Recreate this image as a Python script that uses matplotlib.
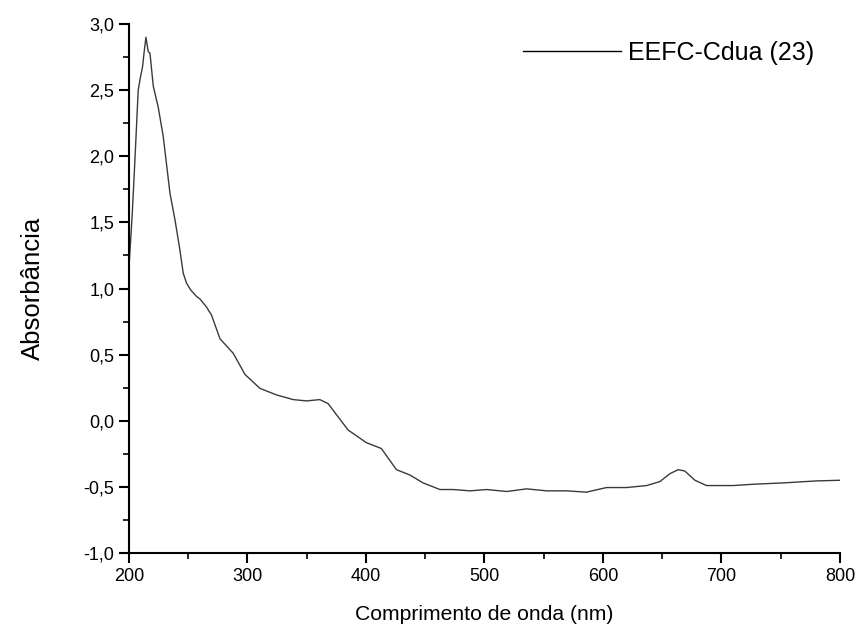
import numpy as np
import matplotlib
matplotlib.use("Agg")
import matplotlib.pyplot as plt
from matplotlib.ticker import MultipleLocator, FuncFormatter

plt.rcParams['font.family'] = ['Liberation Sans', 'DejaVu Sans']

# wavelength (nm) and absorbance
wavelength = [200, 202.8, 205, 207.8, 209.3, 211.5, 212.7, 214.3, 216.3, 217.7,
              220.5, 224.7, 228.9, 234.6, 238.8, 243, 245.8, 248.6, 252, 257,
              260, 265.4, 267.8, 269.6, 276.8, 288, 297.9, 310.5, 324.6, 338.6,
              349.8, 361, 368, 384.9, 400.4, 413, 425.7, 437, 448.2, 462.4,
              473.6, 487.8, 501.8, 518.7, 535.5, 552.4, 569.3, 586, 603, 620,
              636.8, 648, 656.5, 663.5, 669, 677.6, 687.4, 709.9, 726.8, 752,
              780, 800]
absorbance = [1.16, 1.57, 1.97, 2.50, 2.58, 2.68, 2.78, 2.90, 2.79, 2.78,
              2.53, 2.37, 2.15, 1.72, 1.52, 1.29, 1.115, 1.04, 0.99, 0.94,
              0.92, 0.86, 0.825, 0.80, 0.62, 0.51, 0.35, 0.245, 0.195, 0.16,
              0.15, 0.16, 0.13, -0.07, -0.166, -0.21, -0.37, -0.41, -0.47, -0.52,
              -0.52, -0.53, -0.52, -0.535, -0.515, -0.53, -0.53, -0.54, -0.505, -0.505,
              -0.49, -0.46, -0.40, -0.37, -0.38, -0.45, -0.49, -0.49, -0.48, -0.47,
              -0.455, -0.45]
series_label = "EEFC-Cdua (23)"

fig = plt.figure(figsize=(8.61, 6.32), dpi=100)
ax = fig.add_axes([0.1498, 0.125, 0.8258, 0.837])

ax.plot(wavelength, absorbance, color="#3a3a3a", linewidth=1.0, label=series_label)

ax.set_xlim(200, 800)
ax.set_ylim(-1.0, 3.0)
ax.xaxis.set_major_locator(MultipleLocator(100))
ax.xaxis.set_minor_locator(MultipleLocator(50))
ax.yaxis.set_major_locator(MultipleLocator(0.5))
ax.yaxis.set_minor_locator(MultipleLocator(0.25))
ax.yaxis.set_major_formatter(FuncFormatter(lambda v, p: f"{v:.1f}".replace(".", ",")))

for s in ["top", "right"]:
    ax.spines[s].set_visible(False)
for s in ["left", "bottom"]:
    ax.spines[s].set_linewidth(1.5)

ax.tick_params(which="major", direction="out", length=7, width=1.5, labelsize=13)
ax.tick_params(which="minor", direction="out", length=4, width=1.2)

ax.set_xlabel("Comprimento de onda (nm)", fontsize=15.2, labelpad=15)
ax.set_ylabel("Absorbância", fontsize=18.5)
ax.yaxis.set_label_coords(-0.118, 0.5)

leg = fig.legend(loc="center left", frameon=False, fontsize=18, handlelength=3.9,
                 handletextpad=0.32, borderpad=0, borderaxespad=0,
                 bbox_to_anchor=(523 / 861, 1 - 53 / 632))
for h in leg.get_lines():
    h.set_color("black")

fig.savefig("out.png", dpi=100)
